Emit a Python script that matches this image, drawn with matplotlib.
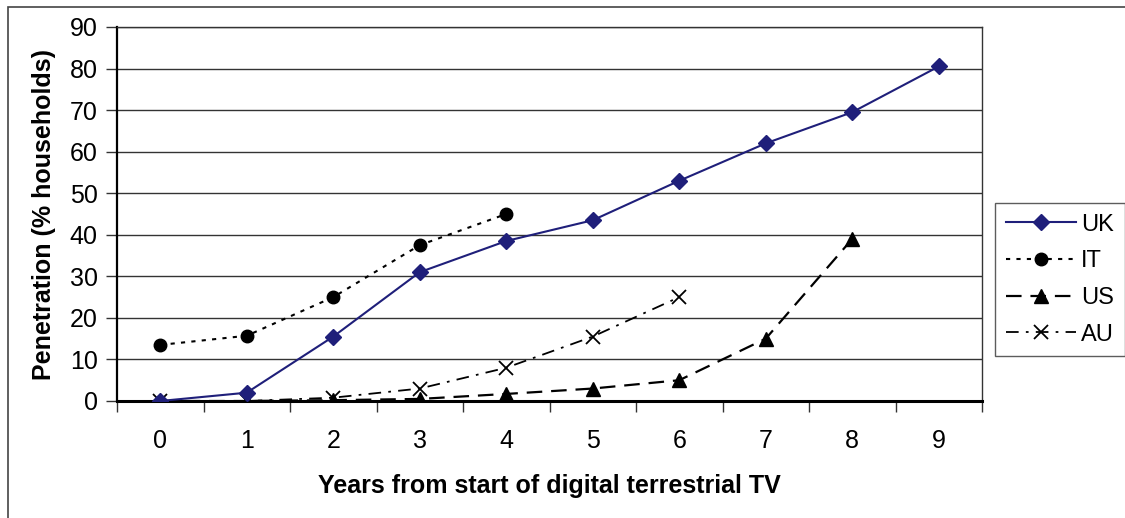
import matplotlib
matplotlib.use("Agg")
import matplotlib.pyplot as plt
from matplotlib.patches import Rectangle
from matplotlib.ticker import FixedLocator, MultipleLocator

plt.rcParams['font.family'] = ['Liberation Sans', 'DejaVu Sans']

years = list(range(10))
uk = [0, 2, 15.5, 31, 38.5, 43.5, 53, 62, 69.5, 80.5]
it = [13.5, 15.7, 25, 37.5, 45]
us = [0, 0, 0.2, 0.5, 1.7, 3, 5, 15, 39]
au = [0, 0, 0.8, 3, 8, 15.5, 25]

fig = plt.figure(figsize=(11.25, 5.18), dpi=100)
W, H = 1125, 518
ax = fig.add_axes([117 / W, 1 - 401 / H, (982 - 117) / W, (401 - 27) / H])

# outer chart border (only left and top are visible in the reference)
fig.patches.append(Rectangle((8 / W, -0.1), 1.2, (1 - 7 / H) + 0.1, transform=fig.transFigure,
                             fill=False, edgecolor='#444444', lw=1.2))

ax.plot(years[:len(uk)], uk, color='#1f1f7a', lw=1.5, marker='D', ms=8, label='UK', zorder=5)
ax.plot(years[:len(it)], it, color='black', lw=1.5, ls=(0, (2, 3)), marker='o', ms=9, label='IT', zorder=4)
ax.plot(years[:len(us)], us, color='black', lw=1.6, ls=(0, (7, 4)), marker='^', ms=10, label='US', zorder=3)
ax.plot(years[:len(au)], au, color='black', lw=1.3, ls=(0, (7, 4, 1.5, 4)), marker='x', ms=10,
        mew=1.3, label='AU', zorder=3)

ax.set_xlim(-0.5, 9.5)
ax.set_ylim(0, 90)
ax.yaxis.set_major_locator(MultipleLocator(10))
ax.xaxis.set_major_locator(FixedLocator([x - 0.5 for x in range(11)]))
ax.xaxis.set_minor_locator(FixedLocator(years))
ax.set_xticklabels([])
ax.set_xticklabels([str(y) for y in years], minor=True)
ax.tick_params(axis='x', which='minor', length=0, pad=20, labelsize=18)
ax.tick_params(axis='x', which='major', length=8, direction='out', width=1, color='#333333')
ax.tick_params(axis='y', length=8, direction='out', width=1, color='#333333', labelsize=18, pad=6)

ax.grid(axis='y', color='#333333', lw=1)
ax.set_axisbelow(True)
for s in ['top', 'right']:
    ax.spines[s].set_color('#333333')
    ax.spines[s].set_linewidth(1)
ax.spines['left'].set_linewidth(1.6)
ax.spines['bottom'].set_linewidth(2.2)

ax.set_xlabel('Years from start of digital terrestrial TV', fontsize=18, fontweight='bold', labelpad=15)
ax.set_ylabel('Penetration (% households)', fontsize=18, fontweight='bold', labelpad=10)

leg = fig.legend(loc='upper left', bbox_to_anchor=(995 / W, 1 - 203 / H), fontsize=17,
                 frameon=True, fancybox=False, edgecolor='#333333', handlelength=3.0,
                 handletextpad=0.2, labelspacing=0.62, borderpad=0.45, borderaxespad=0)
leg.get_frame().set_linewidth(1)

fig.savefig('out.png', dpi=100)
